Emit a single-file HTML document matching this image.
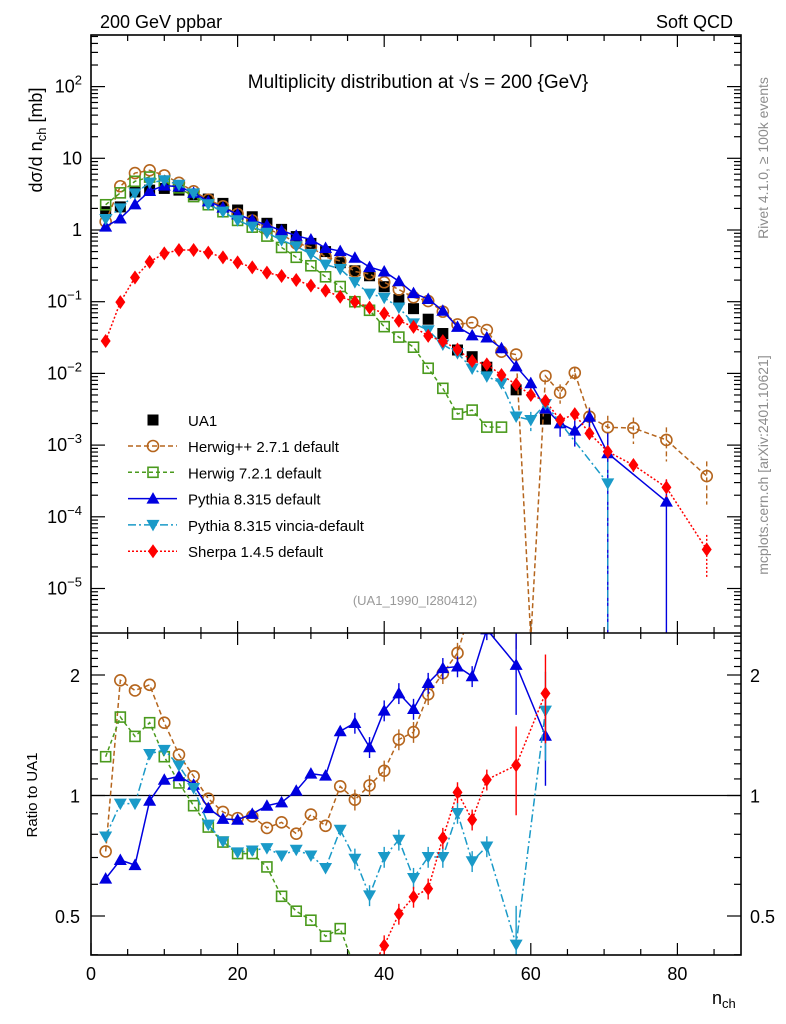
<!DOCTYPE html>
<html><head><meta charset="utf-8"><style>
html,body{margin:0;padding:0;background:#fff;width:786px;height:1024px;overflow:hidden;}
svg{display:block;font-family:"Liberation Sans",sans-serif;}
</style></head><body>
<svg id="chart" width="786" height="1024" viewBox="0 0 786 1024" xmlns="http://www.w3.org/2000/svg" overflow="hidden">
<defs>
<clipPath id="clipTop"><rect x="91" y="35" width="650" height="598"/></clipPath>
<clipPath id="clipBot"><rect x="91" y="633" width="650" height="322"/></clipPath>
</defs>
<text x="100" y="28" font-size="18">200 GeV ppbar</text>
<text x="733" y="28" font-size="18" text-anchor="end">Soft QCD</text>
<text x="418" y="88" font-size="19" text-anchor="middle">Multiplicity distribution at √s = 200 {GeV}</text>
<text transform="translate(42,140) rotate(-90)" font-size="18" text-anchor="middle">dσ/d n<tspan font-size="13" dy="4">ch</tspan><tspan dy="-4"> [mb]</tspan></text>
<text transform="translate(37,795) rotate(-90)" font-size="15" text-anchor="middle">Ratio to UA1</text>
<text x="712" y="1004" font-size="18">n<tspan font-size="13" dy="4">ch</tspan></text>
<text transform="translate(768,158) rotate(-90)" font-size="14" fill="#8c8c8c" text-anchor="middle">Rivet 4.1.0, ≥ 100k events</text>
<text transform="translate(768,465) rotate(-90)" font-size="14" fill="#8c8c8c" text-anchor="middle">mcplots.cern.ch [arXiv:2401.10621]</text>
<text x="415" y="605" font-size="13" fill="#999" text-anchor="middle">(UA1_1990_I280412)</text>
<g id="axes"></g>
<g id="topMarks" clip-path="url(#clipTop)"></g>
<g id="botMarks" clip-path="url(#clipBot)"></g>
<g id="legend"></g>
<rect x="91" y="35" width="650" height="920" fill="none" stroke="#000" stroke-width="1.6"/>
<line x1="91" y1="633" x2="741" y2="633" stroke="#000" stroke-width="1.6"/>
</svg>
<script>
const ns = [2,4,6,8,10,12,14,16,18,20,22,24,26,28,30,32,34,36,38,40,42,44,46,48,50,52,54,56,58,60,62];
const ua1 = [1.8,2.1,3.4,3.6,3.8,3.6,3.1,2.7,2.35,1.9,1.53,1.24,1.02,0.81,0.65,0.5,0.35,0.27,0.23,0.162,0.107,0.08,0.057,0.036,0.0212,0.0171,0.0122,null,0.0059,null,0.0023];
const ratioHerwigpp = [0.725,1.94,1.83,1.89,1.52,1.265,1.117,0.982,0.91,0.878,0.887,0.83,0.857,0.803,0.896,0.84,1.054,0.976,1.06,1.153,1.38,1.44,1.79,2.02,2.27,3.0,3.3,null,3.1,null,4.0];
const ratioHerwig7 = [1.25,1.57,1.405,1.52,1.25,1.075,0.943,0.834,0.765,0.716,0.716,0.663,0.56,0.514,0.488,0.445,0.465,0.37,0.33,0.277,0.30,0.29,0.207,0.172,0.128,0.18,0.146,null,null,null,null];
const ratioPythia = [0.62,0.69,0.67,0.97,1.095,1.117,1.064,0.93,0.874,0.87,0.90,0.943,0.961,1.028,1.134,1.121,1.447,1.518,1.32,1.63,1.80,1.645,1.91,2.08,2.10,1.985,2.6,null,2.12,null,1.41];
const ratioVincia = [0.79,0.954,0.954,1.27,1.30,1.188,1.044,0.846,0.768,0.721,0.729,0.739,0.708,0.732,0.708,0.659,0.821,0.695,0.563,0.702,0.775,0.622,0.702,0.702,0.904,0.685,0.746,null,0.424,null,1.63];
const ratioSherpa = [0.0157,0.047,0.064,0.1,0.124,0.146,0.17,0.179,0.177,0.186,0.197,0.205,0.224,0.248,0.258,0.285,0.335,0.37,0.36,0.422,0.506,0.558,0.585,0.783,1.018,0.87,1.095,null,1.19,null,1.80];
const extraN = [56,60,64,66,68,70.5,74,78.5,84];
const extraHerwigpp = [0.0201,0.000002,0.0054,0.0102,0.00249,0.00177,0.00173,0.00118,0.00037];
const extraHerwig7 = [0.00178,null,null,null,null,null,null,null,null];
const extraPythia = [0.0224,0.0073,0.00201,0.00159,0.00249,0.00077,null,0.000163,null];
const extraVincia = [0.0073,0.00224,null,null,null,0.000293,null,null,null];
const extraSherpa = [0.0095,0.005,0.00224,0.0027,0.00146,0.00081,0.000527,0.000257,0.000035];
const extraErrHerwigpp = [0.05,0.5,0.3,0.2,0.35,0.45,0.4,0.5,0.6];
const extraErrPythia = [0.1,0.2,0.35,0.4,0.3,0.9,0,0.99,0];
const extraErrVincia = [0.1,0.3,0,0,0,0.99,0,0,0];
const extraErrSherpa = [0.05,0.1,0.1,0.1,0.15,0.2,0.2,0.3,0.6];
const xTicks = [0,20,40,60,80];
const yTickExp = [2,1,0,-1,-2,-3,-4,-5];
const rTicks = [0.5,1,2];

const SVGNS='http://www.w3.org/2000/svg';
function X(n){return 91+7.33*n;}
function Y(v){return 230-71.7*Math.log10(v);}
function R(r){return 795.5-120.5*Math.log2(r);}
function cy(y){return Math.max(20,Math.min(1000,y));}
function mk(tag,attrs,parent){const e=document.createElementNS(SVGNS,tag);for(const k in attrs)e.setAttribute(k,attrs[k]);parent.appendChild(e);return e;}
const axesG=document.getElementById('axes'),topG=document.getElementById('topMarks'),botG=document.getElementById('botMarks'),legG=document.getElementById('legend');

for(let v=0;v<=88;v+=5){
  const major=v%20===0, L=major?12:6, x=X(v);
  [[35,1],[633,-1],[633,1],[955,-1]].forEach(([y0,d])=>{
    const t=mk('line',{x1:x,x2:x,y1:y0,y2:y0+d*L,stroke:'#000','stroke-width':1.2},axesG);
    
    
  });
}
xTicks.forEach(v=>{
  const t=mk('text',{x:X(v),y:980,'font-size':18,'text-anchor':'middle'},axesG);t.textContent=v;
  
  
});
for(let e=-6;e<=2;e++){
  for(let m=1;m<=9;m++){
    const y=Y(m*Math.pow(10,e)); if(y<35||y>633) continue;
    const L=m===1?14:7;
    [[91,1],[741,-1]].forEach(([x0,d])=>{
      const t=mk('line',{x1:x0,x2:x0+d*L,y1:y,y2:y,stroke:'#000','stroke-width':1.2},axesG);
      
      
    });
  }
}
yTickExp.forEach(e=>{
  const y=Y(Math.pow(10,e));
  const t=mk('text',{x:82,y:y+6,'font-size':18,'text-anchor':'end'},axesG);
  if(e===1)t.textContent='10';else if(e===0)t.textContent='1';
  else{t.textContent='10';const s=mk('tspan',{dy:-8,'font-size':13},t);s.textContent=e===2?'2':'−'+(-e);}
  
  
});
for(let k=4;k<=25;k++){
  const r=k/10,y=R(r); if(y<633||y>955) continue;
  const major=(k===5||k===10||k===20),L=major?14:7;
  [[91,1],[741,-1]].forEach(([x0,d])=>{
    const t=mk('line',{x1:x0,x2:x0+d*L,y1:y,y2:y,stroke:'#000','stroke-width':1.2},axesG);
    
    
  });
}
rTicks.forEach(r=>{
  [[80,'end'],[750,'start']].forEach(([x,a])=>{
    const t=mk('text',{x:x,y:R(r)+7,'font-size':18,'text-anchor':a},axesG);t.textContent=r;
    
    
  });
});
const oneLine=mk('line',{x1:91,x2:741,y1:R(1),y2:R(1),stroke:'#000','stroke-width':1.2},botG);



function marker(type,x,y,color,parent){
  let e;
  if(type==='square') e=mk('rect',{x:x-5.5,y:y-5.5,width:11,height:11,fill:'#000'},parent);
  else if(type==='osquare') e=mk('rect',{x:x-5,y:y-5,width:10,height:10,fill:'none',stroke:color,'stroke-width':1.6},parent);
  else if(type==='circle') e=mk('circle',{cx:x,cy:y,r:5.5,fill:'none',stroke:color,'stroke-width':1.6},parent);
  else if(type==='tri') e=mk('polygon',{points:`${x},${y-6.5} ${x-6.5},${y+5} ${x+6.5},${y+5}`,fill:color},parent);
  else if(type==='itri') e=mk('polygon',{points:`${x},${y+6.5} ${x-6.5},${y-5} ${x+6.5},${y-5}`,fill:color},parent);
  else e=mk('polygon',{points:`${x},${y-7} ${x-5},${y} ${x},${y+7} ${x+5},${y}`,fill:color},parent);
  return e;
}
const series=[
 {name:'herwigpp',label:'Herwig++ 2.7.1 default',ratio:ratioHerwigpp,extra:extraHerwigpp,err:extraErrHerwigpp,color:'#b5651d',dash:'5,3',m:'circle'},
 {name:'herwig7',label:'Herwig 7.2.1 default',ratio:ratioHerwig7,extra:extraHerwig7,err:null,color:'#4a9a1d',dash:'4,3',m:'osquare'},
 {name:'pythia',label:'Pythia 8.315 default',ratio:ratioPythia,extra:extraPythia,err:extraErrPythia,color:'#0000e0',dash:'',m:'tri'},
 {name:'vincia',label:'Pythia 8.315 vincia-default',ratio:ratioVincia,extra:extraVincia,err:extraErrVincia,color:'#1a9ac8',dash:'8,3,2,3',m:'itri'},
 {name:'sherpa',label:'Sherpa 1.4.5 default',ratio:ratioSherpa,extra:extraSherpa,err:extraErrSherpa,color:'#ff0000',dash:'2,2',m:'diamond'}
];
ns.forEach((n,i)=>{if(ua1[i]==null)return;
  const e=marker('square',X(n),Y(ua1[i]),'#000',topG);
  
  
});
series.forEach(s=>{
  let pts=[];
  ns.forEach((n,i)=>{if(ua1[i]!=null&&s.ratio[i]!=null)pts.push([n,s.ratio[i]*ua1[i],0]);});
  extraN.forEach((n,i)=>{if(s.extra[i]!=null)pts.push([n,s.extra[i],s.err?s.err[i]:0]);});
  pts.sort((a,b)=>a[0]-b[0]);
  const p=mk('polyline',{points:pts.map(q=>X(q[0])+','+cy(Y(q[1]))).join(' '),fill:'none',stroke:s.color,'stroke-width':1.5,'stroke-dasharray':s.dash},topG);
  
  
  pts.forEach(q=>{
    if(q[2]>0){
      const lo=q[2]>=0.9?1e-7:q[1]*(1-q[2]);
      const eb=mk('line',{x1:X(q[0]),x2:X(q[0]),y1:cy(Y(q[1]*(1+q[2]))),y2:cy(Y(lo)),stroke:s.color,'stroke-width':1.4,'stroke-dasharray':s.dash},topG);
      
      
    }
    const e=marker(s.m,X(q[0]),cy(Y(q[1])),s.color,topG);
    
    
  });
  const rp=[];ns.forEach((n,i)=>{if(s.ratio[i]!=null&&ua1[i]!=null)rp.push([n,s.ratio[i]]);});
  const pl=mk('polyline',{points:rp.map(q=>X(q[0])+','+cy(R(q[1]))).join(' '),fill:'none',stroke:s.color,'stroke-width':1.5,'stroke-dasharray':s.dash},botG);
  
  
  rp.forEach(q=>{
    if(q[0]>=36){const f=q[0]>=56?0.25:0.06;
      const eb=mk('line',{x1:X(q[0]),x2:X(q[0]),y1:cy(R(q[1]*(1+f))),y2:cy(R(q[1]*(1-f))),stroke:s.color,'stroke-width':1.4},botG);
      
      }
    const e=marker(s.m,X(q[0]),cy(R(q[1])),s.color,botG);
    
    
  });
});
const lu=marker('square',153,420,'#000',legG);


const lt=mk('text',{x:188,y:426,'font-size':15},legG);lt.textContent='UA1';


series.forEach((s,i)=>{
  const y=446+i*26.3;
  const l=mk('line',{x1:128,x2:177,y1:y,y2:y,stroke:s.color,'stroke-width':1.5,'stroke-dasharray':s.dash},legG);
  
  
  const m=marker(s.m,153,y,s.color,legG);
  
  
  const t=mk('text',{x:188,y:y+6,'font-size':15},legG);t.textContent=s.label;
  
  
});
</script>
</body></html>
